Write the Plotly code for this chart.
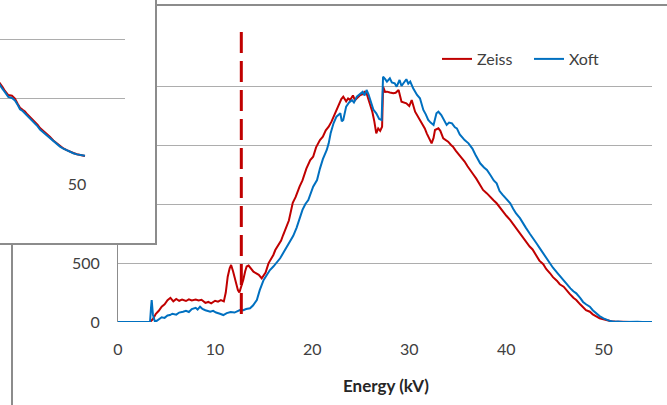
import plotly.graph_objects as go

# ---------------- data ----------------
zeiss_energy = [0, 3.3, 3.6, 3.9, 4.2, 4.5, 4.8, 5.1, 5.4, 5.7, 6.0, 6.3, 6.6, 7.0, 7.3, 7.6, 8.0, 8.3, 8.6,
                9.0, 9.3, 9.6, 10.0, 10.3, 10.6, 10.9, 11.1, 11.3, 11.5, 11.65, 11.85, 12.0, 12.2, 12.35, 12.5,
                12.7, 12.9, 13.1, 13.25, 13.45, 13.6, 13.8, 13.95, 14.2, 14.5, 14.8, 15.0, 15.2, 15.5, 15.75,
                16.0, 16.2, 16.5, 16.8, 17.0, 17.3, 17.6, 18.0, 18.3, 18.7, 19.0, 19.4, 19.8, 20.1, 20.4, 20.8,
                21.1, 21.4, 21.7, 22.0, 22.2, 22.5, 22.8, 23.0, 23.2, 23.5, 23.7, 23.9, 24.2, 24.4, 24.6, 24.9,
                25.2, 25.4, 25.6, 25.8, 26.0, 26.2, 26.4, 26.6, 26.8, 27.0, 27.2, 27.3, 27.5, 27.7, 28.0, 28.35,
                28.6, 28.9, 29.2, 29.5, 29.7, 30.0, 30.25, 30.6, 30.9, 31.3, 31.6, 31.8, 32.1, 32.3, 32.5, 32.65,
                33.0, 33.2, 33.5, 33.8, 34.0, 34.3, 34.5, 34.8, 35.1, 35.4, 35.7, 36.0, 36.3, 36.6, 36.9, 37.2,
                37.6, 38.0, 38.3, 38.7, 39.0, 39.4, 39.7, 40.0, 40.4, 40.7, 41.0, 41.4, 41.7, 42.0, 42.4, 42.7,
                43.1, 43.4, 43.8, 44.1, 44.5, 44.8, 45.2, 45.5, 45.9, 46.2, 46.5, 46.9, 47.2, 47.6, 47.9, 48.2,
                48.6, 48.9, 49.3, 49.6, 50.0, 50.4, 50.8, 51.2, 51.6, 52.0, 52.3, 52.7]
zeiss_counts = [0, 0, 25, 70, 95, 130, 150, 185, 205, 175, 195, 180, 190, 178, 192, 183, 190, 182, 188,
                162, 170, 158, 180, 172, 185, 175, 250, 384, 455, 483, 430, 384, 310, 270, 250,
                300, 357, 430, 470, 478, 465, 440, 426, 415, 400, 370, 395, 420, 497, 530,
                568, 610, 650, 690, 735, 790, 860, 1010, 1060, 1147, 1200, 1300, 1373, 1401, 1480, 1542,
                1570, 1625, 1655, 1700, 1740, 1790, 1860, 1890, 1909, 1870, 1895, 1881, 1920, 1880, 1896, 1920,
                1930, 1950, 1938, 1890, 1840, 1780, 1700, 1599, 1640, 1620, 1655, 1994, 1950, 1952, 1945, 1938,
                1942, 1966, 1867, 1860, 1853, 1830, 1881, 1782, 1740, 1684, 1640, 1599, 1540, 1514, 1560, 1627,
                1641, 1620, 1557, 1540, 1528, 1500, 1486, 1450, 1420, 1395, 1360, 1320, 1290, 1250, 1215, 1170,
                1119, 1090, 1060, 1030, 1006, 960, 930, 900, 864, 830, 800, 760, 723, 690, 640, 615,
                553, 520, 490, 450, 413, 380, 350, 320, 299, 265, 240, 205, 186, 150, 120, 100,
                87, 65, 45, 32, 23, 12, 6, 4, 2, 0, 3, 0]

xoft_energy = [0, 3.3, 3.4, 3.47, 3.6, 3.8, 4.0, 4.3, 4.5, 4.8, 5.1, 5.35, 5.6, 6.0, 6.3, 6.7, 7.0, 7.3, 7.6,
               8.0, 8.2, 8.45, 8.7, 9.0, 9.5, 9.8, 10.1, 10.5, 10.85, 11.2, 11.6, 12.0, 12.3, 12.56, 12.9, 13.2,
               13.6, 13.9, 14.3, 14.6, 15.0, 15.3, 15.65, 16.0, 16.3, 16.7, 17.0, 17.4, 17.7, 18.05, 18.4, 18.7,
               19.0, 19.3, 19.6, 20.1, 20.5, 20.8, 21.1, 21.5, 21.7, 21.9, 22.2, 22.5, 22.9, 23.05, 23.2, 23.5,
               23.8, 24.1, 24.3, 24.6, 24.9, 25.2, 25.4, 25.6, 25.8, 26.1, 26.3, 26.6, 26.9, 27.15, 27.3, 27.5,
               27.7, 28.0, 28.2, 28.5, 28.7, 29.0, 29.2, 29.4, 29.7, 29.9, 30.1, 30.4, 30.6, 30.8, 31.1, 31.3,
               31.45, 31.7, 31.95, 32.2, 32.5, 32.8, 33.0, 33.3, 33.6, 33.85, 34.1, 34.4, 34.7, 34.9, 35.2, 35.4,
               35.7, 36.1, 36.5, 36.8, 37.1, 37.3, 37.7, 38.0, 38.4, 38.7, 39.0, 39.3, 39.6, 40.0, 40.4, 40.7,
               41.0, 41.4, 41.7, 42.0, 42.4, 42.7, 43.1, 43.4, 43.8, 44.1, 44.5, 44.8, 45.2, 45.5, 45.9, 46.2,
               46.6, 46.9, 47.2, 47.6, 47.9, 48.2, 48.6, 48.9, 49.3, 49.6, 50.0, 50.4, 50.7, 51.1, 51.5, 52.0,
               52.5, 53.0, 53.5, 54.0, 54.5, 55.0]
xoft_counts = [0, 0, 120, 186, 60, 5, 10, 30, 40, 35, 55, 59, 70, 62, 80, 87, 95, 85, 110,
               120, 105, 130, 110, 100, 87, 95, 80, 70, 59, 75, 85, 80, 95, 101, 100, 110,
               116, 140, 186, 270, 356, 400, 440, 470, 497, 540, 582, 640, 690, 730, 800, 880,
               950, 1000, 1034, 1147, 1203, 1300, 1380, 1458, 1514, 1600, 1684, 1740, 1769, 1700, 1712, 1825,
               1860, 1880, 1860, 1909, 1930, 1950, 1920, 1966, 1930, 1853, 1800, 1769, 1720, 1712, 2079, 2060,
               2037, 2065, 2030, 2023, 1994, 2051, 2000, 2023, 2057, 2020, 2037, 1980, 1950, 1924, 1896, 1840,
               1797, 1760, 1712, 1690, 1670, 1769, 1782, 1754, 1700, 1670, 1690, 1684, 1650, 1641, 1590, 1570,
               1542, 1514, 1470, 1420, 1380, 1345, 1310, 1288, 1240, 1200, 1175, 1110, 1080, 1040, 1006, 960,
               920, 880, 836, 800, 750, 710, 667, 630, 580, 540, 497, 460, 420, 390, 356, 320,
               285, 260, 243, 205, 170, 150, 130, 100, 70, 50, 31, 18, 8, 3, 5, 0,
               2, 0, 3, 0, 0, 0]

marker_energy = [12.7, 12.7]
marker_counts = [2458, 45]

# partly hidden chart in the top-left corner
inset_energy = [41.5, 42.07, 42.35, 42.58, 42.92, 43.3, 43.61, 43.9, 44.13, 44.4, 44.64, 44.9, 45.16, 45.4,
                45.67, 45.95, 46.19, 46.5, 46.88, 47.2, 47.56, 47.9, 48.25, 48.6, 48.94, 49.3, 49.62, 50.0,
                50.31, 50.6, 50.82]
inset_zeiss = [690, 615, 590, 560, 525, 520, 495, 450, 418, 400, 385, 360, 340, 318, 300, 272, 245, 222,
               200, 172, 140, 118, 92, 72, 58, 44, 34, 24, 18, 12, 8]
inset_xoft = [680, 605, 575, 550, 510, 500, 480, 440, 405, 390, 370, 350, 328, 305, 285, 260, 232, 210,
              185, 160, 130, 110, 88, 70, 55, 42, 32, 22, 16, 12, 10]

x_ticks = [0, 10, 20, 30, 40, 50]
y_ticks = [0, 500, 1000, 1500, 2000, 2500]

RED = "#C00000"
BLUE = "#0070C0"
GRID = "#adadad"
BORDER = "#8c8c8c"
TXT = "#404040"
FONT = "Lato, 'Open Sans', sans-serif"

W, H = 667, 405


def fx(px):
    return px / W


def fy(py):
    return 1 - py / H


fig = go.Figure()

# main chart
fig.add_trace(go.Scatter(x=zeiss_energy, y=zeiss_counts, mode="lines", name="Zeiss",
                         line=dict(color=RED, width=2), xaxis="x", yaxis="y"))
fig.add_trace(go.Scatter(x=xoft_energy, y=xoft_counts, mode="lines", name="Xoft",
                         line=dict(color=BLUE, width=2), xaxis="x", yaxis="y"))
fig.add_trace(go.Scatter(x=marker_energy, y=marker_counts, mode="lines", showlegend=False,
                         line=dict(color=RED, width=3, dash="21px,8px"), xaxis="x", yaxis="y"))
# covering window frame
fig.add_trace(go.Scatter(x=[None], y=[None], mode="lines", showlegend=False, hoverinfo="skip",
                         xaxis="x2", yaxis="y2"))
# inset chart
fig.add_trace(go.Scatter(x=inset_energy, y=inset_zeiss, mode="lines", showlegend=False,
                         line=dict(color=RED, width=2), xaxis="x3", yaxis="y3"))
fig.add_trace(go.Scatter(x=inset_energy, y=inset_xoft, mode="lines", showlegend=False,
                         line=dict(color=BLUE, width=2), xaxis="x3", yaxis="y3"))

common = dict(automargin=False, zeroline=False, ticks="")

fig.update_layout(
    template="none",
    width=W, height=H, autosize=False,
    margin=dict(l=0, r=0, t=0, b=0, pad=0),
    paper_bgcolor="white", plot_bgcolor="white",
    font=dict(family=FONT, size=16, color=TXT),
    showlegend=True,
    legend=dict(orientation="h", x=fx(437), xanchor="left", y=fy(59), yanchor="middle",
                bgcolor="rgba(0,0,0,0)", borderwidth=0, font=dict(size=16, color=TXT),
                itemwidth=30, tracegroupgap=0, entrywidth=47, entrywidthmode="pixels"),
    xaxis=dict(domain=[fx(118), fx(652)], range=[0, 55], tickvals=x_ticks, showgrid=False,
               showline=False, ticklabelstandoff=16, anchor="y",
               tickfont=dict(size=16, color=TXT), **common),
    yaxis=dict(domain=[fy(322), fy(27)], range=[0, 2500], tickvals=y_ticks, showgrid=True,
               gridcolor=GRID, gridwidth=1, showline=True, linecolor=BORDER,
               linewidth=1, ticklabelstandoff=14, anchor="x",
               tickfont=dict(size=16, color=TXT), **common),
    xaxis2=dict(domain=[0, fx(155)], range=[0, 1], anchor="y2", showgrid=False,
                showticklabels=False, showline=True, linecolor=BORDER, linewidth=2, **common),
    yaxis2=dict(domain=[fy(243), 1], range=[0, 1], anchor="x2", side="right", showgrid=False,
                showticklabels=False, showline=True, linecolor=BORDER, linewidth=2, **common),
    xaxis3=dict(domain=[0, fx(125)], range=[42.07, 54.94], tickvals=[50], anchor="y3", showgrid=False,
                showline=False, ticklabelstandoff=16,
                tickfont=dict(size=16, color=TXT), **common),
    yaxis3=dict(domain=[fy(157), 1], range=[0, 1331], tickvals=y_ticks, anchor="x3", showgrid=True,
                gridcolor=GRID, gridwidth=1, showline=False, showticklabels=False, **common),
    shapes=[dict(type="rect", xref="paper", yref="paper", x0=fx(12), x1=1.05, y0=-0.05, y1=fy(5),
                 line=dict(color=BORDER, width=2), fillcolor="rgba(0,0,0,0)", layer="below")],
    annotations=[dict(text="<b>Energy (kV)</b>", xref="paper", yref="paper", x=fx(386), y=fy(385),
                      xanchor="center", yanchor="middle", showarrow=False,
                      font=dict(size=17, color="#262626", family=FONT))],
)

fig.write_html("out.html", config={"displayModeBar": False},
               post_script="document.body.style.margin='0';document.body.style.overflow='hidden';")
